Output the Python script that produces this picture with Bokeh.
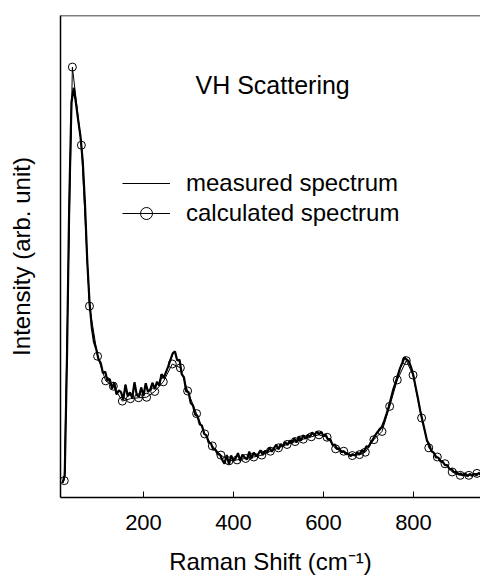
from bokeh.plotting import figure
from bokeh.models import (Range1d, FixedTicker, Span, Label, Legend, LegendItem)
from bokeh.embed import file_html
from bokeh.resources import INLINE

# ---- data ----
measured_x = list(range(20, 955, 5))
measured_y = [
    3.0, 4.6, 29.0, 61.0, 82.0, 85.0, 81.8, 78.2, 74.9, 69.8, 60.9, 49.2, 40.6, 35.4, 32.3, 30.8,
    28.7, 27.9, 25.8, 26.1, 24.2, 24.6, 22.6, 23.9, 21.4, 22.2, 21.9, 20.3, 23.4, 21.0, 21.8, 20.6, 23.9, 21.3, 20.9, 22.8,
    21.1, 23.7, 21.9, 22.4, 23.8, 22.5, 24.0, 23.2, 25.6, 24.8, 26.0, 27.2, 28.6, 29.9, 30.3, 28.4, 28.6, 25.6, 24.9, 22.0,
    21.9, 19.6, 19.1, 17.2, 16.9, 15.2, 14.9, 13.2, 12.9, 11.4, 11.2, 10.0, 9.9, 9.0, 8.9, 7.8, 7.0, 8.8, 6.9, 8.7,
    7.6, 8.2, 9.2, 7.6, 8.9, 8.3, 7.9, 9.5, 8.1, 9.3, 8.6, 9.0, 9.8, 8.8, 9.7, 9.3, 10.4, 9.5, 10.3, 10.9,
    10.0, 11.1, 10.6, 11.5, 10.9, 11.8, 11.3, 12.3, 11.4, 12.7, 11.8, 12.9, 12.2, 13.0, 12.6, 13.5, 12.9, 13.7, 13.1, 13.6,
    12.8, 13.0, 12.0, 12.1, 10.9, 11.0, 10.1, 10.2, 9.4, 9.6, 9.0, 9.1, 8.6, 9.0, 8.7, 9.3, 8.9, 9.8, 9.5, 10.6,
    10.5, 11.4, 12.1, 12.9, 13.6, 14.1, 14.7, 15.9, 17.3, 18.8, 20.6, 22.4, 23.8, 25.3, 26.8, 27.9, 29.1, 28.6, 28.2, 26.9,
    25.2, 22.8, 20.5, 18.0, 15.9, 13.9, 11.8, 11.0, 9.6, 9.3, 8.3, 8.3, 7.5, 7.4, 6.7, 6.7, 5.9, 5.9, 5.2, 5.4,
    4.8, 5.0, 4.6, 5.0, 4.4, 4.9, 4.5, 4.9, 4.6, 5.1, 4.7,
]

calc_x = [24, 42, 62, 80, 98, 116, 133, 153, 171, 189, 207, 225, 244, 264,
          282, 298, 318, 336, 353, 372, 390, 408, 427, 445, 463, 482, 500,
          519, 537, 555, 573, 590, 608, 627, 645, 664, 680, 693, 712, 730,
          747, 764, 784, 799, 818, 834, 853, 870, 886, 904, 923, 941]
calc_y = [3.5, 89.3, 73.1, 39.7, 29.3, 24.2, 23.1, 20.0, 20.5, 20.7, 20.8,
          22.0, 24.0, 27.7, 26.9, 22.1, 17.4, 13.2, 10.7, 8.8, 7.6, 7.8, 8.1,
          8.4, 8.8, 9.6, 10.3, 11.0, 11.6, 12.1, 12.6, 13.0, 12.5, 10.1, 9.6,
          8.7, 8.9, 9.4, 12.0, 13.7, 18.9, 24.4, 28.4, 25.4, 16.5, 10.3, 8.4,
          7.0, 5.3, 4.6, 4.6, 5.0]

x_ticks = [200, 400, 600, 800]
series_labels = ["measured spectrum", "calculated spectrum"]
panel_title = "VH Scattering"
x_title = "Raman Shift (cm\u207b\u00b9)"
y_title = "Intensity (arb. unit)"

FONT = "Liberation Sans"

p = figure(width=480, height=577, output_backend="svg", toolbar_location=None,
           x_range=Range1d(15.6, 948.9), y_range=Range1d(0, 100),
           min_border_left=60, min_border_right=0, min_border_top=15,
           min_border_bottom=78)
p.outline_line_color = None
p.xgrid.grid_line_color = None
p.ygrid.grid_line_color = None
p.background_fill_color = "white"
p.border_fill_color = "white"

# axes
xa = p.xaxis[0]
xa.ticker = FixedTicker(ticks=x_ticks)
xa.major_tick_in = 6
xa.major_tick_out = 0
xa.minor_tick_line_color = None
xa.axis_line_width = 1.5
xa.axis_line_color = "black"
xa.major_tick_line_color = "black"
xa.major_label_text_font = FONT
xa.major_label_text_font_size = "22px"
xa.major_label_text_color = "black"
xa.major_label_standoff = 17
xa.axis_label = x_title
xa.axis_label_text_font = FONT
xa.axis_label_text_font_size = "24px"
xa.axis_label_text_font_style = "normal"
xa.axis_label_text_color = "black"
xa.axis_label_standoff = 15

ya = p.yaxis[0]
ya.ticker = FixedTicker(ticks=[])
ya.minor_tick_line_color = None
ya.major_tick_line_color = None
ya.axis_line_width = 1.5
ya.axis_line_color = "black"
ya.axis_label = y_title
ya.axis_label_text_font = FONT
ya.axis_label_text_font_size = "24px"
ya.axis_label_text_font_style = "normal"
ya.axis_label_text_color = "black"
ya.axis_label_standoff = 26

p.add_layout(Span(location=100, dimension="width", line_color="black",
                  line_width=1.5))

# data: measured drawn as a thick noisy band plus a thin core line
p.line(measured_x, measured_y, line_color="black", line_width=2.2)
r_meas = p.line(measured_x, measured_y, line_color="black", line_width=1)
r_calc_line = p.line(calc_x, calc_y, line_color="black", line_width=1)
r_calc_pts = p.scatter(calc_x, calc_y, marker="circle", size=8,
                       line_color="black", line_width=1, fill_color=None)

p.add_layout(Label(x=315.6, y=85.5, text=panel_title, text_baseline="middle",
                   text_font=FONT, text_font_size="25px", text_color="black"))

legend = Legend(items=[
    LegendItem(label=series_labels[0], renderers=[r_meas]),
    LegendItem(label=series_labels[1], renderers=[r_calc_line, r_calc_pts]),
], location=(62, 269))
legend.border_line_color = None
legend.background_fill_alpha = 0
legend.padding = 0
legend.margin = 0
legend.spacing = 0
legend.label_height = 30
legend.glyph_height = 30
legend.glyph_width = 48
legend.label_standoff = 16
legend.label_text_font = FONT
legend.label_text_font_size = "24px"
legend.label_text_color = "black"
p.add_layout(legend)

open("out.html", "w").write(file_html(p, INLINE))
